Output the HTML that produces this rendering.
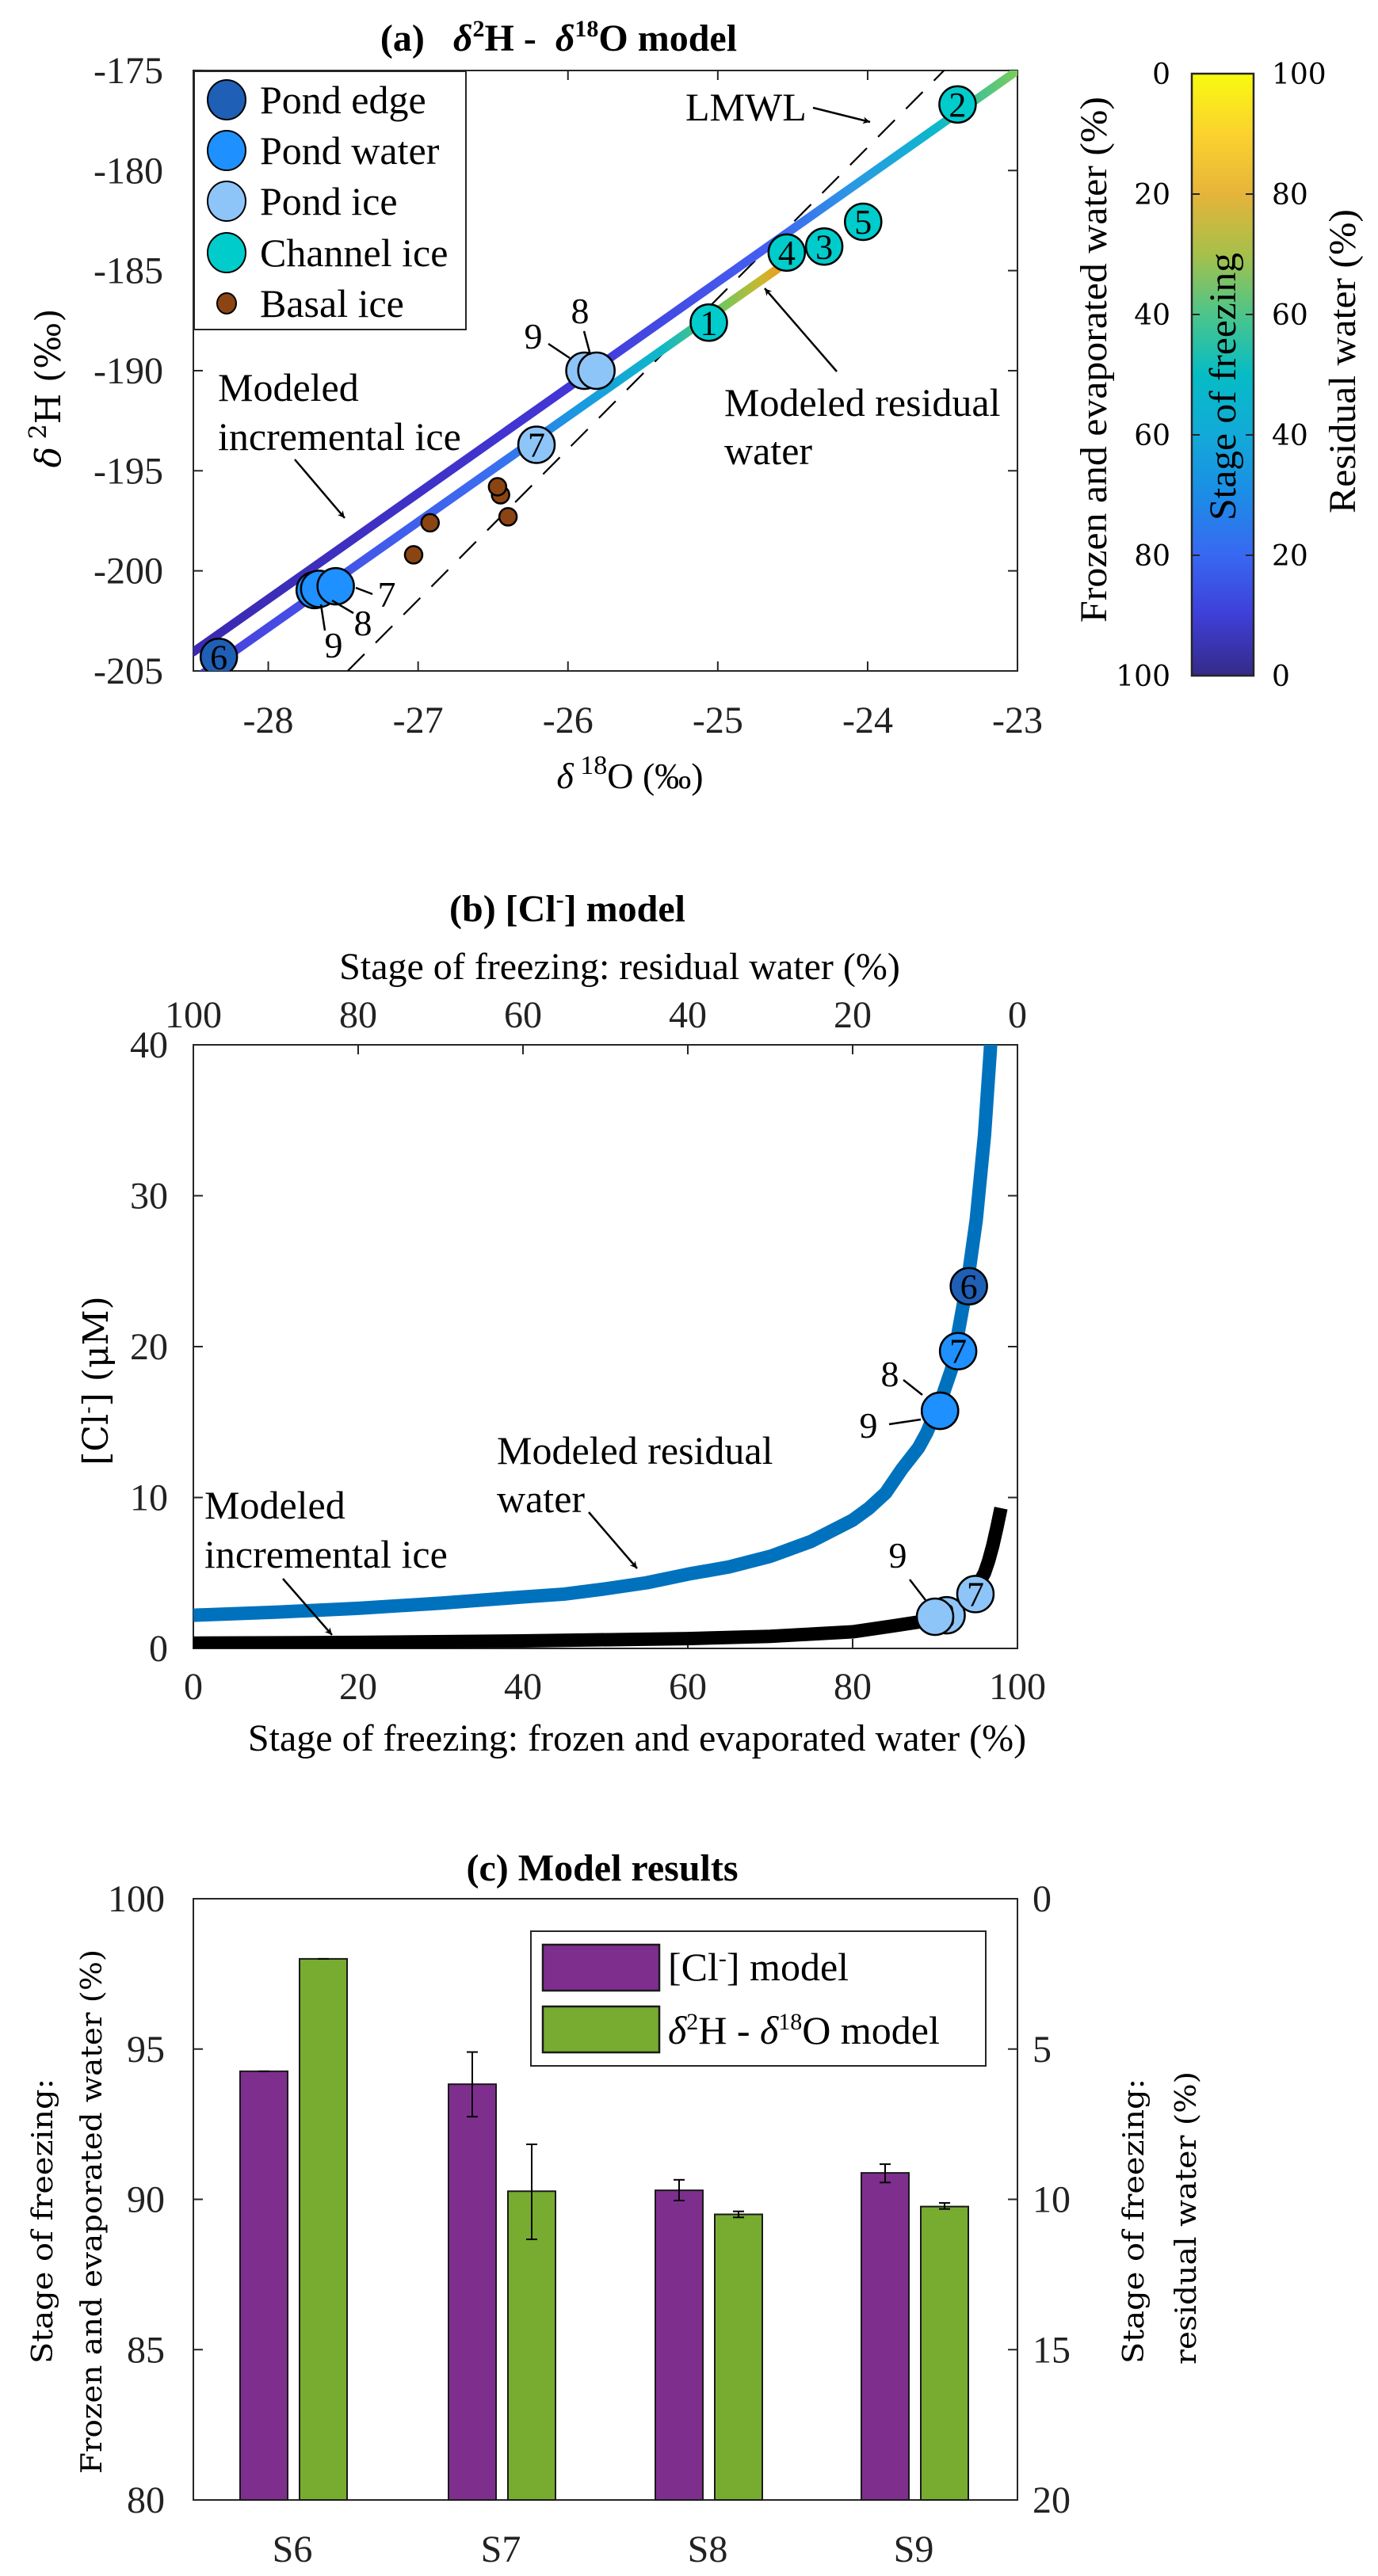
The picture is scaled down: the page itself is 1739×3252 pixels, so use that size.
<!DOCTYPE html>
<html><head><meta charset="utf-8">
<style>
html,body{margin:0;padding:0;background:#fff;}
svg{display:block;}
svg text{font-family:"Liberation Serif","Times New Roman",serif;fill:#000;}
svg text.dv{font-family:"DejaVu Serif","Liberation Serif",serif;}
.tk{font-size:48px;fill:#222;}
</style></head>
<body>
<svg id="fig" xmlns="http://www.w3.org/2000/svg" width="1739" height="3252" viewBox="0 0 1739 3252" font-family="Liberation Serif, serif">
<defs>
<clipPath id="clipA"><rect x="244" y="89" width="1040" height="758"/></clipPath>
<clipPath id="clipB"><rect x="244" y="1319" width="1040" height="762"/></clipPath>
<linearGradient id="cbar" x1="0" y1="1" x2="0" y2="0">
<stop offset="0" stop-color="#352a87"/><stop offset="0.1" stop-color="#3e3fd8"/><stop offset="0.2" stop-color="#3868f2"/>
<stop offset="0.3" stop-color="#1c8ce6"/><stop offset="0.4" stop-color="#12aad8"/><stop offset="0.5" stop-color="#06bcc4"/>
<stop offset="0.6" stop-color="#4cc58a"/><stop offset="0.7" stop-color="#a6c04a"/><stop offset="0.8" stop-color="#e6b43a"/>
<stop offset="0.9" stop-color="#fbd22e"/><stop offset="1" stop-color="#f8fa10"/></linearGradient>
<linearGradient id="gInc" gradientUnits="userSpaceOnUse" x1="244" y1="0" x2="1284" y2="0">
<stop offset="0" stop-color="#3a2ab0"/><stop offset="0.45" stop-color="#4236d6"/><stop offset="0.7" stop-color="#4460f2"/>
<stop offset="0.8" stop-color="#2a98e4"/><stop offset="0.9" stop-color="#0cb8cc"/><stop offset="1" stop-color="#7ccc58"/></linearGradient>
<linearGradient id="gRes" gradientUnits="userSpaceOnUse" x1="253" y1="0" x2="981" y2="0">
<stop offset="0" stop-color="#4a3ee0"/><stop offset="0.5" stop-color="#3c6cf0"/><stop offset="0.66" stop-color="#1a9ae0"/>
<stop offset="0.8" stop-color="#0fb8c8"/><stop offset="0.9" stop-color="#6cc860"/><stop offset="0.97" stop-color="#c8b830"/><stop offset="1" stop-color="#e8a020"/></linearGradient>
<marker id="arr" viewBox="0 0 10 10" refX="10" refY="5" markerWidth="9" markerHeight="9" orient="auto-start-reverse" markerUnits="userSpaceOnUse">
<path d="M0,0 L10,5 L0,10 L3,5 z" fill="#000"/></marker>
</defs>
<g id="pa"></g>
<g id="pb"></g>
<g id="pc"></g>
</svg>
<script>
// ---------- Panel A data ----------
const xTicksA = [-28,-27,-26,-25,-24,-23];
const yTicksA = [-205,-200,-195,-190,-185,-180,-175];
const lmwlX = [-27.47,-23.49];
const lmwlY = [-205,-175];
const incX = [-28.5,-23.0];
const incY = [-204.05,-175.0];
const resX = [-28.45,-24.6];
const resY = [-205.2,-184.9];
const pondEdgeX = [-28.33]; const pondEdgeY = [-204.3]; const pondEdgeL = ['6'];
const pondWaterX = [-27.55,-27.66,-27.69]; const pondWaterY = [-200.77,-200.9,-200.96]; const pondWaterL = ['','',''];
const pondIceX = [-26.21,-25.81,-25.89]; const pondIceY = [-193.7,-190.0,-190.0]; const pondIceL = ['7','',''];
const chanX = [-25.06,-23.4,-24.29,-24.54,-24.03]; const chanY = [-187.6,-176.7,-183.8,-184.1,-182.56]; const chanL = ['1','2','3','4','5'];
const basalX = [-26.92,-27.03,-26.47,-26.45,-26.40]; const basalY = [-197.6,-199.2,-195.8,-196.2,-197.3];
const cbarLeftTicks = [0,20,40,60,80,100];
const cbarRightTicks = [100,80,60,40,20,0];
// ---------- Panel B data ----------
const xTicksB = [0,20,40,60,80,100];
const topTicksB = [100,80,60,40,20,0];
const yTicksB = [0,10,20,30,40];
const resF = [0,10,20,30,40,45,50,55,60,65,70,75,80,82,84,85,86,87,88,89,90,91,92,93,94,95,96,96.7,97.5];
const resC = [2.2,2.4,2.66,3.0,3.41,3.6,3.95,4.35,4.92,5.4,6.1,7.1,8.5,9.3,10.3,11.1,11.9,12.6,13.3,14.3,15.6,16.9,18.5,21.5,24.5,28.4,34.0,39.6,48];
const iceF = [0,20,40,60,70,75,80,85,88,90,92,93,94,95,96,96.5,97,97.5,98];
const iceC = [0.35,0.4,0.5,0.65,0.8,0.95,1.1,1.5,1.75,2.0,2.5,2.8,3.3,4.0,5.0,5.8,6.8,8.0,9.3];
const bPondEdgeF=[94.1]; const bPondEdgeC=[24.0]; const bPondEdgeL=['6'];
const bPondWaterF=[92.8,90.6,90.6]; const bPondWaterC=[19.7,15.75,15.75]; const bPondWaterL=['7','',''];
const bPondIceF=[94.9,90.0,91.4]; const bPondIceC=[3.6,2.1,2.2]; const bPondIceL=['7','','8'];
// ---------- Panel C data ----------
const sites = ['S6','S7','S8','S9'];
const clVals = [94.26,93.83,90.3,90.88];
const clErrLo = [94.26,92.75,89.96,90.56];
const clErrHi = [94.26,94.9,90.65,91.17];
const isoVals = [98.0,90.27,89.5,89.76];
const isoErrLo = [98.0,88.67,89.4,89.68];
const isoErrHi = [98.0,91.83,89.6,89.88];
const yTicksC = [80,85,90,95,100];
const yTicksCR = [20,15,10,5,0];

const NS='http://www.w3.org/2000/svg';
const SERIF='"Liberation Serif","Times New Roman",serif';
const DVS='"DejaVu Serif","Liberation Serif",serif';
function mk(parent,tag,attrs,txt){const e=document.createElementNS(NS,tag);for(const k in attrs)e.setAttribute(k,attrs[k]);
  if(tag==='text'){e.style.fontFamily=(attrs['class']||'').indexOf('dv')>=0?DVS:SERIF;}
  if(txt!==undefined)e.textContent=txt;parent.appendChild(e);return e;}

// ================= PANEL A =================
const pa=document.getElementById('pa');
const xa=v=>244+(v+28.5)*189.1;
const ya=v=>847-(v+205)*25.27;
let t;
t=mk(pa,'text',{x:705,y:64,'text-anchor':'middle','font-size':'48','font-weight':'bold'});
t.innerHTML='(a)&#160;&#160;&#160;<tspan font-style="italic">δ</tspan><tspan dy="-18" font-size="30">2</tspan><tspan dy="18">H -&#160;&#160;</tspan><tspan font-style="italic">δ</tspan><tspan dy="-18" font-size="30">18</tspan><tspan dy="18">O model</tspan>';


let r=mk(pa,'rect',{x:244,y:89,width:1040,height:758,fill:'#fff',stroke:'#262626','stroke-width':2});


xTicksA.forEach(v=>{
  mk(pa,'line',{x1:xa(v),x2:xa(v),y1:847,y2:835,stroke:'#262626','stroke-width':2});
  mk(pa,'line',{x1:xa(v),x2:xa(v),y1:89,y2:101,stroke:'#262626','stroke-width':2});
  const e=mk(pa,'text',{x:xa(v),y:925,'text-anchor':'middle',class:'tk'},String(v));
  
  
});
yTicksA.forEach(v=>{
  mk(pa,'line',{x1:244,x2:256,y1:ya(v),y2:ya(v),stroke:'#262626','stroke-width':2});
  mk(pa,'line',{x1:1284,x2:1272,y1:ya(v),y2:ya(v),stroke:'#262626','stroke-width':2});
  const e=mk(pa,'text',{x:206,y:ya(v)+16,'text-anchor':'end',class:'tk'},String(v));
  
  
});
t=mk(pa,'text',{x:0,y:0,'font-size':'44',class:'dv',transform:'translate(76,490) rotate(-90)','text-anchor':'middle'});
t.innerHTML='<tspan font-style="italic">δ</tspan><tspan dy="-18" font-size="30"> 2</tspan><tspan dy="18">H (‰)</tspan>';


t=mk(pa,'text',{x:795,y:995,'font-size':'46','text-anchor':'middle'});
t.innerHTML='<tspan font-style="italic">δ</tspan><tspan dy="-18" font-size="34"> 18</tspan><tspan dy="18">O (‰)</tspan>';


const ga=mk(pa,'g',{'clip-path':'url(#clipA)'});
let ln=mk(ga,'line',{x1:xa(lmwlX[0]),y1:ya(lmwlY[0]),x2:xa(lmwlX[1]),y2:ya(lmwlY[1]),stroke:'#000','stroke-width':2.2,'stroke-dasharray':'30 20'});


ln=mk(ga,'line',{x1:xa(incX[0]),y1:ya(incY[0]),x2:xa(incX[1]),y2:ya(incY[1]),stroke:'url(#gInc)','stroke-width':11,'stroke-linecap':'round'});


ln=mk(ga,'line',{x1:xa(resX[0]),y1:ya(resY[0]),x2:xa(resX[1]),y2:ya(resY[1]),stroke:'url(#gRes)','stroke-width':11,'stroke-linecap':'round'});


function pts(par,X,Y,L,fill,rad,name,xf,yf,fs){
  for(let i=X.length-1;i>=0;i--){
    const c=mk(par,'circle',{cx:xf(X[i]),cy:yf(Y[i]),r:rad,fill:fill,stroke:'#000','stroke-width':2.5});
    
    
    if(L&&L[i]){const e=mk(par,'text',{x:xf(X[i]),y:yf(Y[i])+15,'text-anchor':'middle','font-size':fs||44},L[i]);
      
      }
  }
}
pts(ga,basalX,basalY,null,'#8b4513',11,'basal-ice-point',xa,ya);
pts(ga,pondIceX,pondIceY,pondIceL,'#8ec5f8',23,'pond-ice-point',xa,ya);
pts(ga,pondWaterX,pondWaterY,pondWaterL,'#1e90ff',23,'pond-water-point',xa,ya);
pts(ga,chanX,chanY,chanL,'#00cccc',23,'channel-ice-point',xa,ya);
pts(ga,pondEdgeX,pondEdgeY,pondEdgeL,'#1f5fb5',23,'pond-edge-point',xa,ya);
function lab(par,x,y,s,fs,name){const e=mk(par,'text',{x:x,y:y,'text-anchor':'middle','font-size':fs||44},s);return e;}
function seg(par,x1,y1,x2,y2,arrow){const a={x1:x1,y1:y1,x2:x2,y2:y2,stroke:'#000','stroke-width':2.5};if(arrow)a['marker-end']='url(#arr)';return mk(par,'line',a);}
lab(pa,732,408,'8',46,'pond-ice-8-label'); seg(pa,737,418,745,448);
lab(pa,673,440,'9',46,'pond-ice-9-label'); seg(pa,692,434,719,452);
lab(pa,488,766,'7',46,'pond-water-7-label'); seg(pa,449,742,470,750);
lab(pa,458,802,'8',46,'pond-water-8-label'); seg(pa,419,758,446,774);
lab(pa,421,830,'9',46,'pond-water-9-label'); seg(pa,405,763,410,796);
t=mk(pa,'text',{x:865,y:152,'font-size':'50'},'LMWL');


seg(pa,1026,136,1098,154,true);
t=mk(pa,'text',{x:914,y:525,'font-size':'50'},'Modeled residual');


t=mk(pa,'text',{x:914,y:586,'font-size':'50'},'water');


seg(pa,1056,469,965,364,true);
t=mk(pa,'text',{x:275,y:506,'font-size':'50'},'Modeled');


t=mk(pa,'text',{x:275,y:568,'font-size':'50'},'incremental ice');


seg(pa,372,580,435,654,true);
// legend
const lg=mk(pa,'g',{});


mk(lg,'rect',{x:245,y:90,width:343,height:326,fill:'#fff',stroke:'#262626','stroke-width':2});
const legNames=['Pond edge','Pond water','Pond ice','Channel ice','Basal ice'];
const legCols=['#1f5fb5','#1e90ff','#8ec5f8','#00cccc','#8b4513'];
const legY=[126,190,254,319,383];
legNames.forEach((n,i)=>{
  const c=mk(lg,'ellipse',{cx:286,cy:legY[i],rx:i==4?12:24,ry:i==4?13:25,fill:legCols[i],stroke:'#000','stroke-width':2});
  
  
  const e=mk(lg,'text',{x:328,y:legY[i]+17,'font-size':'50'},n);
  
  
});
// colorbar
r=mk(pa,'rect',{x:1504,y:93,width:78,height:760,fill:'url(#cbar)',stroke:'#262626','stroke-width':2.5});


const cy=v=>93+v/100*760;
cbarLeftTicks.forEach(v=>{
  if(v>0&&v<100){mk(pa,'line',{x1:1504,x2:1514,y1:cy(v),y2:cy(v),stroke:'#262626','stroke-width':2});mk(pa,'line',{x1:1582,x2:1572,y1:cy(v),y2:cy(v),stroke:'#262626','stroke-width':2});}
  const e=mk(pa,'text',{x:1477,y:cy(v)+13,'text-anchor':'end','font-size':'36',class:'dv',fill:'#222'},String(v));
  
  
});
cbarRightTicks.forEach((v,i)=>{
  const e=mk(pa,'text',{x:1605,y:cy(cbarLeftTicks[i])+13,'font-size':'36',class:'dv',fill:'#222'},String(v));
  
  
});
t=mk(pa,'text',{x:0,y:0,'font-size':'48','text-anchor':'middle',transform:'translate(1396,454) rotate(-90)',textLength:'664',lengthAdjust:'spacingAndGlyphs'},'Frozen and evaporated water (%)');


t=mk(pa,'text',{x:0,y:0,'font-size':'48','text-anchor':'middle',transform:'translate(1559,488) rotate(-90)',textLength:'338',lengthAdjust:'spacingAndGlyphs'},'Stage of freezing');


t=mk(pa,'text',{x:0,y:0,'font-size':'48','text-anchor':'middle',transform:'translate(1710,456) rotate(-90)',textLength:'384',lengthAdjust:'spacingAndGlyphs'},'Residual water (%)');



// ================= PANEL B =================
const pb=document.getElementById('pb');
const xb=f=>244+f*10.4;
const yb=c=>2081-c*19.05;
t=mk(pb,'text',{x:716,y:1163,'font-size':'48','font-weight':'bold','text-anchor':'middle'});
t.innerHTML='(b) [Cl<tspan dy="-18" font-size="30">-</tspan><tspan dy="18">] model</tspan>';


t=mk(pb,'text',{x:782,y:1236,'font-size':'48','text-anchor':'middle'},'Stage of freezing: residual water (%)');


r=mk(pb,'rect',{x:244,y:1319,width:1040,height:762,fill:'#fff',stroke:'#262626','stroke-width':2});


xTicksB.forEach((v,i)=>{
  mk(pb,'line',{x1:xb(v),x2:xb(v),y1:2081,y2:2069,stroke:'#262626','stroke-width':2});
  mk(pb,'line',{x1:xb(v),x2:xb(v),y1:1319,y2:1331,stroke:'#262626','stroke-width':2});
  let e=mk(pb,'text',{x:xb(v),y:2145,'text-anchor':'middle',class:'tk'},String(v));
  
  
  e=mk(pb,'text',{x:xb(v),y:1297,'text-anchor':'middle',class:'tk'},String(topTicksB[i]));
  
  
});
yTicksB.forEach(v=>{
  mk(pb,'line',{x1:244,x2:256,y1:yb(v),y2:yb(v),stroke:'#262626','stroke-width':2});
  mk(pb,'line',{x1:1284,x2:1272,y1:yb(v),y2:yb(v),stroke:'#262626','stroke-width':2});
  const e=mk(pb,'text',{x:212,y:yb(v)+16,'text-anchor':'end',class:'tk'},String(v));
  
  
});
t=mk(pb,'text',{x:0,y:0,'font-size':'44','text-anchor':'middle',class:'dv',transform:'translate(136,1743) rotate(-90)'});
t.innerHTML='[Cl<tspan dy="-16" font-size="28">-</tspan><tspan dy="16">]  (μM)</tspan>';


t=mk(pb,'text',{x:804,y:2210,'font-size':'48','text-anchor':'middle'},'Stage of freezing: frozen and evaporated water (%)');


const gb=mk(pb,'g',{'clip-path':'url(#clipB)'});
let pl=mk(gb,'polyline',{points:resF.map((f,i)=>xb(f)+','+yb(resC[i])).join(' '),fill:'none',stroke:'#0072bd','stroke-width':17,'stroke-linejoin':'round'});


pl=mk(gb,'polyline',{points:iceF.map((f,i)=>xb(f)+','+yb(iceC[i])).join(' '),fill:'none',stroke:'#000','stroke-width':17,'stroke-linejoin':'round'});


pts(gb,bPondIceF,bPondIceC,bPondIceL,'#8ec5f8',23,'pond-ice-point',xb,yb);
pts(gb,bPondWaterF,bPondWaterC,bPondWaterL,'#1e90ff',23,'pond-water-point',xb,yb);
pts(gb,bPondEdgeF,bPondEdgeC,bPondEdgeL,'#1f5fb5',23,'pond-edge-point',xb,yb);
lab(pb,1123,1750,'8',46,'pond-water-8-label'); seg(pb,1140,1742,1164,1761);
lab(pb,1096,1815,'9',46,'pond-water-9-label'); seg(pb,1122,1798,1162,1792);
lab(pb,1133,1979,'9',46,'pond-ice-9-label'); seg(pb,1148,1994,1168,2020);
t=mk(pb,'text',{x:627,y:1848,'font-size':'50'},'Modeled residual');


t=mk(pb,'text',{x:627,y:1909,'font-size':'50'},'water');


seg(pb,743,1909,804,1980,true);
t=mk(pb,'text',{x:258,y:1917,'font-size':'50'},'Modeled');


t=mk(pb,'text',{x:258,y:1979,'font-size':'50'},'incremental ice');


seg(pb,357,1993,419,2064,true);

// ================= PANEL C =================
const pc=document.getElementById('pc');
const yc=v=>3156-(v-80)*37.95;
const groupX=[369,632,893,1153];
t=mk(pc,'text',{x:760,y:2374,'font-size':'48','font-weight':'bold','text-anchor':'middle'},'(c) Model results');


r=mk(pc,'rect',{x:244,y:2397,width:1040,height:759,fill:'#fff',stroke:'#262626','stroke-width':2});


yTicksC.forEach((v,i)=>{
  mk(pc,'line',{x1:244,x2:256,y1:yc(v),y2:yc(v),stroke:'#262626','stroke-width':2});
  mk(pc,'line',{x1:1284,x2:1272,y1:yc(v),y2:yc(v),stroke:'#262626','stroke-width':2});
  let e=mk(pc,'text',{x:208,y:yc(v)+16,'text-anchor':'end',class:'tk'},String(v));
  
  
  e=mk(pc,'text',{x:1303,y:yc(v)+16,class:'tk'},String(yTicksCR[i]));
  
  
});
function errbar(x,lo,hi){
  if(hi-lo<0.001){mk(pc,'line',{x1:x-7,x2:x+7,y1:yc(hi),y2:yc(hi),stroke:'#000','stroke-width':2});return;}
  mk(pc,'line',{x1:x,x2:x,y1:yc(lo),y2:yc(hi),stroke:'#000','stroke-width':2});
  mk(pc,'line',{x1:x-7,x2:x+7,y1:yc(lo),y2:yc(lo),stroke:'#000','stroke-width':2});
  mk(pc,'line',{x1:x-7,x2:x+7,y1:yc(hi),y2:yc(hi),stroke:'#000','stroke-width':2});
}
sites.forEach((s,i)=>{
  const gx=groupX[i];
  let b=mk(pc,'rect',{x:gx-66,y:yc(clVals[i]),width:60,height:3156-yc(clVals[i]),fill:'#7e2f8e',stroke:'#1a1a1a','stroke-width':2});
  
  
  b=mk(pc,'rect',{x:gx+9,y:yc(isoVals[i]),width:60,height:3156-yc(isoVals[i]),fill:'#77ac30',stroke:'#1a1a1a','stroke-width':2});
  
  
  errbar(gx-36,clErrLo[i],clErrHi[i]);
  errbar(gx+39,isoErrLo[i],isoErrHi[i]);
  const e=mk(pc,'text',{x:gx,y:3234,'text-anchor':'middle',class:'tk'},s);
  
  
});
const lc=mk(pc,'g',{});


mk(lc,'rect',{x:670,y:2438,width:574,height:170,fill:'#fff',stroke:'#262626','stroke-width':2});
r=mk(lc,'rect',{x:685,y:2455,width:147,height:58,fill:'#7e2f8e',stroke:'#1a1a1a','stroke-width':2.5});


r=mk(lc,'rect',{x:685,y:2533,width:147,height:58,fill:'#77ac30',stroke:'#1a1a1a','stroke-width':2.5});


t=mk(lc,'text',{x:843,y:2500,'font-size':'50'});
t.innerHTML='[Cl<tspan dy="-18" font-size="30">-</tspan><tspan dy="18">] model</tspan>';


t=mk(lc,'text',{x:843,y:2580,'font-size':'50'});
t.innerHTML='<tspan font-style="italic">δ</tspan><tspan dy="-18" font-size="30">2</tspan><tspan dy="18">H -  </tspan><tspan font-style="italic">δ</tspan><tspan dy="-18" font-size="30">18</tspan><tspan dy="18">O model</tspan>';


t=mk(pc,'text',{x:0,y:0,'font-size':'36','text-anchor':'middle',class:'dv',fill:'#222',transform:'translate(66,2804) rotate(-90)',textLength:'360',lengthAdjust:'spacingAndGlyphs'},'Stage of freezing:');


t=mk(pc,'text',{x:0,y:0,'font-size':'36','text-anchor':'middle',class:'dv',fill:'#222',transform:'translate(128,2792) rotate(-90)',textLength:'662',lengthAdjust:'spacingAndGlyphs'},'Frozen and evaporated water (%)');


t=mk(pc,'text',{x:0,y:0,'font-size':'36','text-anchor':'middle',class:'dv',fill:'#222',transform:'translate(1443,2804) rotate(-90)',textLength:'360',lengthAdjust:'spacingAndGlyphs'},'Stage of freezing:');


t=mk(pc,'text',{x:0,y:0,'font-size':'36','text-anchor':'middle',class:'dv',fill:'#222',transform:'translate(1509,2800) rotate(-90)',textLength:'370',lengthAdjust:'spacingAndGlyphs'},'residual water (%)');


</script>
</body></html>
